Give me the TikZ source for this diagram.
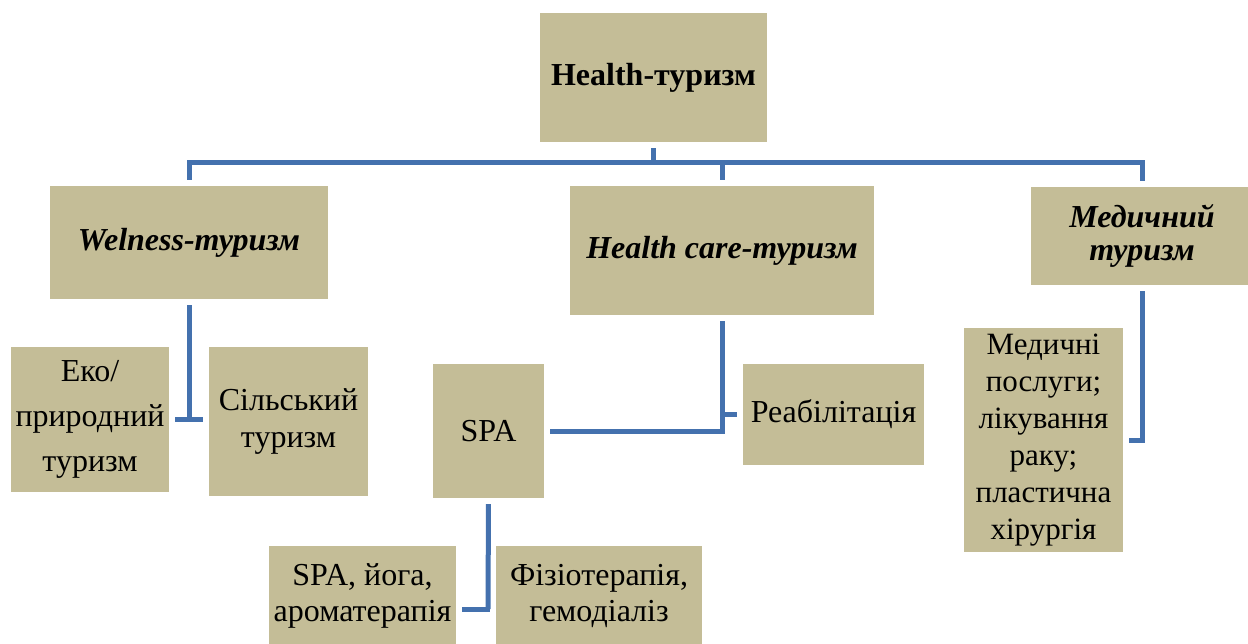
\documentclass[tikz,border=0pt]{standalone}
\usepackage{fontspec}
\setmainfont{Liberation Serif}
\usetikzlibrary{calc}

\definecolor{boxtan}{RGB}{196,189,151}
\definecolor{linkblue}{RGB}{68,113,174}

\begin{document}
\begin{tikzpicture}[x=1pt, y=-1pt,
  box/.style={fill=boxtan, draw=none, inner sep=0pt, align=center,
    font=\fontsize{32}{37}\selectfont},
  head/.style={box, font=\bfseries\itshape\fontsize{32}{38}\selectfont},
  link/.style={draw=linkblue, line width=5pt, shorten <=6pt, shorten >=6pt}]

  \useasboundingbox (0,0) rectangle (1248,644);

  % top level
  \node[box, minimum width=227pt, minimum height=129pt,
    font=\bfseries\fontsize{32}{38}\selectfont] (root) at (653.5,77.5) {Health-туризм};

  \node[head, minimum width=278pt, minimum height=113pt] (welness) at (189,242.5) {Welness-туризм};
  \node[head, minimum width=304pt, minimum height=129pt] (care) at (722,250.5) {Health care-туризм};
  \node[head, minimum width=222pt, minimum height=98pt,
    font=\bfseries\itshape\fontsize{32}{33}\selectfont] (medical) at (1142,236) {Медичний\\туризм};

  % second level
  \node[box, minimum width=158pt, minimum height=145pt,
    font=\fontsize{32}{45}\selectfont] (eco) at (90,419.5) {Еко/\\природний\\туризм};
  \node[box, minimum width=159pt, minimum height=149pt] (rural) at (288.5,421.5) {Сільський\\туризм};
  \node[box, minimum width=111pt, minimum height=134pt] (spa) at (488.5,431) {SPA};
  \node[box, minimum width=181pt, minimum height=101pt] (rehab) at (833.5,414.5) {Реабілітація};
  \node[box, minimum width=159pt, minimum height=224pt,
    font=\fontsize{31}{37}\selectfont] (medlist) at (1043.5,440)
    {Медичні\\послуги;\\лікування\\раку;\\пластична\\хірургія};

  % third level
  \node[box, minimum width=187pt, minimum height=100pt,
    font=\fontsize{32}{36}\selectfont] (spayoga) at (362.5,596) {SPA, йога,\\ароматерапія};
  \node[box, minimum width=206pt, minimum height=100pt,
    font=\fontsize{32}{36}\selectfont] (physio) at (599,596) {Фізіотерапія,\\гемодіаліз};

  \coordinate (bus) at (653,163);
  \coordinate (spafork) at (488,609);

  \draw[link, shorten >=0pt] (root.south) -- (root.south |- bus);
  \draw[link] (welness.north) |- (bus) -| (medical.north);
  \draw[link, shorten <=0pt] (care.north |- bus) -- (care.north);

  \draw[link, shorten >=0pt] (welness.south) -- (welness.south |- eco.east);
  \draw[link] (eco.east) -- (rural.west |- eco.east);

  \draw[link] (care.south) |- (spa.east);
  \draw[link, shorten <=0pt] (care.south |- rehab.west) -- (rehab.west);

  \draw[link, shorten >=0pt] (spa.south) -- (spafork);
  \draw[link] (spayoga.east |- spafork) -- (physio.west |- spafork);

  \draw[link] (medical.south) |- (medlist.east);

\end{tikzpicture}
\end{document}
